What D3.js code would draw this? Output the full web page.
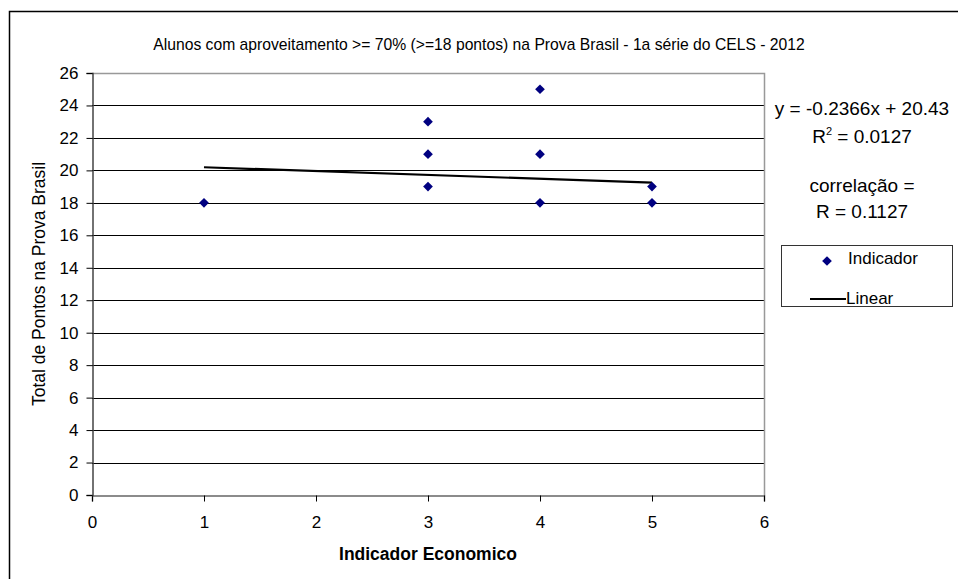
<!DOCTYPE html>
<html>
<head>
<meta charset="utf-8">
<script src="https://cdn.jsdelivr.net/npm/d3@7"></script>
<style>
  body { margin: 0; background: #fff; }
  svg { display: block; font-family: "Liberation Sans", Arial, sans-serif; }
</style>
</head>
<body>
<svg id="chart" width="958" height="579"></svg>
<script>
const xValues = [1, 3, 3, 3, 4, 4, 4, 5, 5];
const yValues = [18, 23, 21, 19, 25, 21, 18, 19, 18];
const xTicks = [0, 1, 2, 3, 4, 5, 6];
const yTicks = [0, 2, 4, 6, 8, 10, 12, 14, 16, 18, 20, 22, 24, 26];
// trendline as printed on the chart
const trendSlope = -0.2366;
const trendIntercept = 20.43;
const trendRange = [1, 5];
const eqLines = ['y = -0.2366x + 20.43', 'R2 = 0.0127', 'correlação =', 'R = 0.1127'];
const legendLabels = ['Indicador', 'Linear'];

const svg = d3.select('#chart');
const plotLeft = 92, plotRight = 764, plotTop = 73, plotBottom = 495;

const x = d3.scaleLinear().domain([0, 6]).range([plotLeft, plotRight]);
const y = d3.scaleLinear().domain([0, 26]).range([plotBottom, plotTop]);
const crisp = v => Math.round(v) + 0.5;

// outer frame (runs off the page on right/bottom)
svg.append('rect')
  .attr('x', 9.5).attr('y', 11.5)
  .attr('width', 1000).attr('height', 1000)
  .attr('fill', 'none').attr('stroke', '#000').attr('stroke-width', 1.5);

svg.append('text')
  .attr('x', 479).attr('y', 50)
  .attr('text-anchor', 'middle')
  .style('font-size', '15.7px')
  .text('Alunos com aproveitamento >= 70% (>=18 pontos) na Prova Brasil - 1a série do CELS - 2012');

// gridlines
svg.append('g').selectAll('line')
  .data(yTicks.filter(d => d > 0 && d < 26))
  .enter().append('line')
  .attr('x1', plotLeft).attr('x2', plotRight)
  .attr('y1', d => crisp(y(d))).attr('y2', d => crisp(y(d)))
  .attr('stroke', '#000').attr('stroke-width', 1);

// plot border top/right in gray
svg.append('path')
  .attr('d', `M${plotLeft},${crisp(y(26))}H${crisp(plotRight)}V${crisp(y(0))}`)
  .attr('fill', 'none').attr('stroke', '#999').attr('stroke-width', 1.5);

// axes
const xAxis = svg.append('g')
  .attr('transform', `translate(0,${crisp(plotBottom)})`)
  .call(d3.axisBottom(x).tickValues(xTicks).tickFormat(d3.format('d')).tickSize(6).tickPadding(14));
const yAxis = svg.append('g')
  .attr('transform', `translate(${crisp(plotLeft)},0)`)
  .call(d3.axisLeft(y).tickValues(yTicks).tickFormat(d3.format('d')).tickSize(6).tickPadding(8));

[xAxis, yAxis].forEach(a => {
  a.select('.domain').attr('stroke', '#666').attr('stroke-width', 1.5);
  a.selectAll('.tick line').attr('stroke', '#000');
  a.selectAll('.tick text')
    .style('font-size', '17px')
    .style('font-family', '"Liberation Sans", Arial, sans-serif')
    .attr('fill', '#000');
});
yAxis.select('.domain').attr('stroke', '#444');

svg.append('text')
  .attr('transform', `translate(45,${(plotTop + plotBottom) / 2}) rotate(-90)`)
  .attr('text-anchor', 'middle')
  .style('font-size', '17.5px')
  .text('Total de Pontos na Prova Brasil');

svg.append('text')
  .attr('x', (plotLeft + plotRight) / 2).attr('y', 560)
  .attr('text-anchor', 'middle')
  .style('font-size', '17.5px').style('font-weight', 'bold')
  .text('Indicador Economico');

// trendline
const line = d3.line().x(d => x(d)).y(d => y(trendSlope * d + trendIntercept));
svg.append('path')
  .datum(trendRange)
  .attr('d', line)
  .attr('fill', 'none').attr('stroke', '#000').attr('stroke-width', 2.2);

// points
const diamond = d3.symbol().type(d3.symbolDiamond2).size(60);
svg.append('g').selectAll('path')
  .data(xValues.map((v, i) => [v, yValues[i]]))
  .enter().append('path')
  .attr('d', diamond)
  .attr('transform', d => `translate(${x(d[0])},${y(d[1])})`)
  .attr('fill', '#000080');

// equation text
const eqY = [115, 143, 192, 218];
const eq = svg.append('g').attr('text-anchor', 'middle').style('font-size', '19px');
eqLines.forEach((t, i) => {
  const tx = eq.append('text').attr('x', 862).attr('y', eqY[i]);
  if (t.startsWith('R2')) {
    tx.append('tspan').text('R');
    tx.append('tspan').attr('dy', -8).style('font-size', '11px').text('2');
    tx.append('tspan').attr('dy', 8).text(t.slice(2));
  } else {
    tx.text(t);
  }
});

// legend
const lg = svg.append('g');
lg.append('rect')
  .attr('x', 781.5).attr('y', 245.5).attr('width', 171).attr('height', 61)
  .attr('fill', '#fff').attr('stroke', '#333').attr('stroke-width', 1);
lg.append('path')
  .attr('d', diamond)
  .attr('transform', 'translate(827,261)')
  .attr('fill', '#000080');
lg.append('line')
  .attr('x1', 810).attr('x2', 846).attr('y1', 299).attr('y2', 299)
  .attr('stroke', '#000').attr('stroke-width', 2.2);
lg.append('text').attr('x', 848).attr('y', 264).style('font-size', '17px').text(legendLabels[0]);
lg.append('text').attr('x', 846).attr('y', 304).style('font-size', '17px').text(legendLabels[1]);
</script>
</body>
</html>
